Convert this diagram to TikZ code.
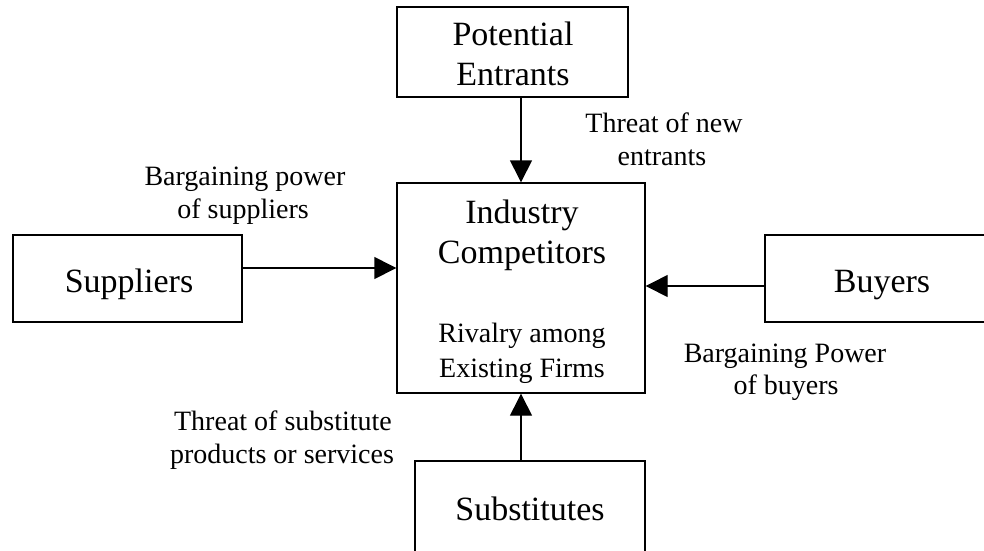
\documentclass[tikz,border=0pt]{standalone}
\usepackage{fontspec}
\setmainfont{Liberation Serif}
\usetikzlibrary{arrows.meta}
\begin{document}
\begin{tikzpicture}[x=1pt,y=-1pt,
  box/.style={draw, line width=1.4pt, inner sep=0pt},
  big/.style={font=\fontsize{34}{40}\selectfont, anchor=base, inner sep=0pt},
  small/.style={font=\fontsize{28}{33}\selectfont, anchor=base, inner sep=0pt},
  link/.style={line width=1.4pt, -{Triangle[length=22pt,width=22pt]}}
]
\useasboundingbox (0,0) rectangle (984,550);

% five forces boxes
\node[box, minimum width=231pt, minimum height=90pt]  (pe)  at (512.5,52)   {};
\node[box, minimum width=248pt, minimum height=210pt] (ind) at (521,288)    {};
\node[box, minimum width=229pt, minimum height=87pt]  (sup) at (127.5,278.5) {};
\node[box, minimum width=236pt, minimum height=87pt]  (buy) at (883,278.5)  {};
\node[box, minimum width=230pt, minimum height=109pt] (sub) at (530,515.5)  {};

% box texts
\node[big] (pe1)  at (513,45)  {Potential};
\node[big] (pe2)  at (513,85)  {Entrants};
\node[big] (ind1) at (522,223) {Industry};
\node[big] (ind2) at (522,263) {Competitors};
\node[small] (ind3) at (522,342) {Rivalry among};
\node[small] (ind4) at (522,377) {Existing Firms};
\node[big] (supT) at (129,292) {Suppliers};
\node[big] (buyT) at (882,292) {Buyers};
\node[big] (subT) at (530,520) {Substitutes};

% connectors
\draw[link] (pe.south -| ind.north) -- (ind.north);
\draw[link] (sub.north -| ind.south) -- (ind.south);
\coordinate (sA) at ([yshift=10.5pt]sup.east);
\draw[link] (sA) -- (sA -| ind.west);
\coordinate (bA) at ([yshift=-7.5pt]buy.west);
\draw[link] (bA) -- (bA -| ind.east);

% force labels
\node[small] (l1a) at (664,132) {Threat of new};
\node[small] (l1b) at (662,165) {entrants};
\node[small] (l2a) at (245,185) {Bargaining power};
\node[small] (l2b) at (243,218) {of suppliers};
\node[small] (l3a) at (785,362) {Bargaining Power};
\node[small] (l3b) at (786,394) {of buyers};
\node[small] (l4a) at (283,430) {Threat of substitute};
\node[small] (l4b) at (282,463) {products or services};
\end{tikzpicture}
\end{document}
